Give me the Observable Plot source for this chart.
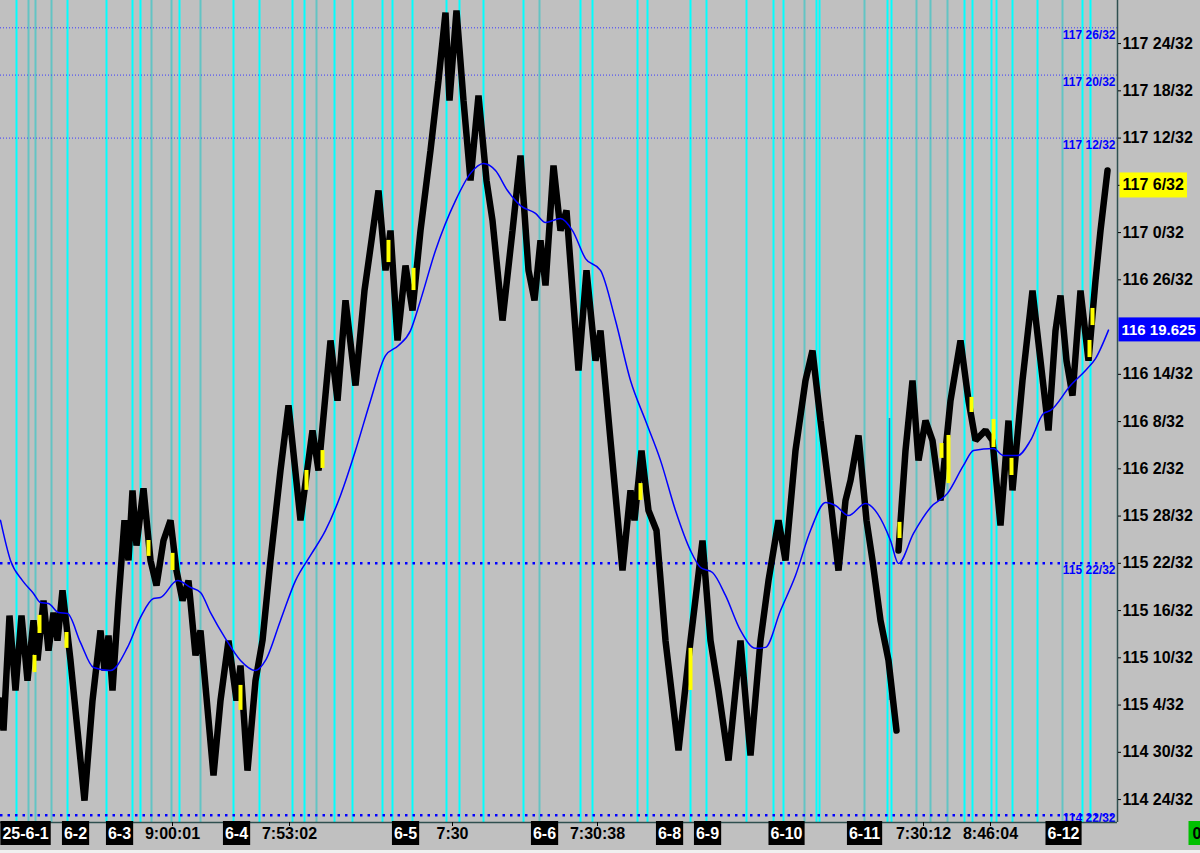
<!DOCTYPE html>
<html><head><meta charset="utf-8">
<script src="https://cdn.jsdelivr.net/npm/d3@7"></script>
<script src="https://cdn.jsdelivr.net/npm/@observablehq/plot@0.6"></script>
<style>body{margin:0;background:#c0c0c0;overflow:hidden} svg{display:block}</style>
</head><body><div id="chart"></div><script>
// ---- data ----
const barCount = 1117;
const priceMin = 114.659, priceMax = 117.921;

// swing points of the price bars (bar index, price)
const seg1X = [0,3,9,15,21,27,33,37,43,48,53,57,62,70,76,84,92,100,104,108,112,118,124,128,132,136,143,150,156,163,170,176,182,188,195,200,213,220,228,236,240,247,255,262,270,280,288,300,312,318,330,337,345,355,364,378,385,390,397,405,412,420,430,438,445,449,456,463,470,478,486,492,502,512,520,528,534,540,545,553,560,566,578,586,595,600,610,622,630,634,641,648,656,665,678,690,702,710,718,728,740,750,760,768,778,785,795,805,812,820,830,838,845,850,858,866,872,880,888,896];
const seg1P = [115.143,115.024,115.480,115.183,115.480,115.222,115.461,115.302,115.540,115.341,115.492,115.381,115.580,115.302,115.064,114.746,115.143,115.421,115.262,115.401,115.183,115.540,115.858,115.699,115.977,115.758,115.985,115.699,115.600,115.778,115.858,115.659,115.540,115.619,115.322,115.421,114.846,115.143,115.381,115.143,115.282,114.865,115.222,115.381,115.699,116.056,116.314,115.858,116.215,116.056,116.572,116.333,116.731,116.393,116.770,117.167,116.850,117.008,116.572,116.869,116.691,117.008,117.326,117.604,117.873,117.524,117.881,117.524,117.207,117.544,117.207,117.048,116.651,117.008,117.306,116.850,116.731,116.969,116.790,117.266,117.008,117.088,116.453,116.850,116.492,116.611,116.175,115.659,115.977,115.858,116.135,115.897,115.818,115.381,114.945,115.381,115.778,115.381,115.183,114.905,115.381,114.925,115.381,115.619,115.858,115.699,116.135,116.413,116.532,116.254,115.937,115.659,115.937,116.016,116.195,115.858,115.699,115.461,115.302,115.024];
const seg2X = [898,905,912,918,925,932,940,950,960,968,975,985,992,1000,1008,1012,1022,1032,1040,1048,1055,1060,1066,1072,1080,1088,1095,1100,1107];
const seg2P = [115.738,116.135,116.413,116.096,116.254,116.175,115.937,116.333,116.572,116.333,116.175,116.215,116.175,115.838,116.254,115.977,116.413,116.770,116.492,116.215,116.611,116.750,116.492,116.353,116.770,116.492,116.810,117.008,117.246];

// moving average
const maX = [0,10,22,33,40,48,58,67,80,93,110,127,140,153,160,177,190,200,210,225,240,255,265,280,295,310,325,340,355,370,385,398,410,420,435,455,470,483,495,507,520,535,545,560,572,585,600,615,630,645,660,675,690,700,712,725,740,755,765,780,795,810,825,835,848,865,877,890,898,913,930,947,963,973,993,1003,1017,1030,1043,1050,1070,1085,1095,1108];
const maP = [115.858,115.699,115.619,115.568,115.532,115.528,115.492,115.488,115.373,115.274,115.262,115.354,115.473,115.548,115.552,115.619,115.592,115.572,115.492,115.389,115.302,115.262,115.302,115.461,115.619,115.719,115.818,115.957,116.135,116.333,116.512,116.552,116.611,116.731,116.929,117.127,117.235,117.274,117.246,117.167,117.107,117.076,117.040,117.056,117.008,116.897,116.850,116.651,116.413,116.254,116.096,115.897,115.738,115.671,115.651,115.560,115.421,115.350,115.354,115.500,115.639,115.818,115.929,115.917,115.877,115.925,115.885,115.778,115.687,115.806,115.909,115.965,116.076,116.135,116.143,116.115,116.115,116.175,116.282,116.294,116.393,116.453,116.500,116.613];

// highlighted (yellow) bars
const yellowX  = [34,39,66,148,172,240,306,322,388,413,640,690,899,941,948,971,993,1011,1089,1092];
const yellowLo = [115.254,115.409,115.350,115.715,115.659,115.104,115.977,116.064,116.881,116.770,115.937,115.183,115.786,116.104,116.004,116.286,116.147,116.036,116.504,116.631];
const yellowHi = [115.322,115.481,115.413,115.778,115.727,115.203,116.056,116.135,116.969,116.858,116.004,115.350,115.850,116.163,116.195,116.346,116.258,116.104,116.572,116.699];

// session separators
const sepX = [16,28,35,51,67,106,132,140,151,171,179,200,233,259,292,304,316,334,352,382,392,412,446,459,483,523,539,580,592,637,647,690,706,746,773,783,804,816,819,864,887,891,916,930,947,964,972,991,996,1012,1037,1062,1082,1090];
const sepBright = [1,0,0,0,1,1,1,1,0,0,1,0,1,1,1,1,0,1,1,1,1,1,1,1,1,1,0,1,1,1,1,1,1,1,1,1,0,1,1,0,1,1,0,0,0,1,1,1,1,1,1,0,1,1];

// gap bar
const gapBarX = [889], gapBarLo = [115.143], gapBarHi = [116.262];

// price levels
const thinLevels = [117.8125, 117.625, 117.375];
const thickLevels = [115.6875, 114.6875];
const levelLabels = ["117 26/32","117 20/32","117 12/32","115 22/32","114 22/32"];

// right axis
const yTicks = [114.75,114.9375,115.125,115.3125,115.5,115.6875,115.875,116.0625,116.25,116.4375,116.8125,117,117.1875,117.375,117.5625,117.75];
const lastPrice = 117.1875, lastPriceLabel = "117 6/32";
const maLast = 116.613, maLastLabel = "116 19.625";

// bottom labels
const xLabelPos  = [25,75,119,172,236,289,405,452,544,597,669,707,786,864,923,990,1063];
const xLabelText = ["25-6-1","6-2","6-3","9:00:01","6-4","7:53:02","6-5","7:30","6-6","7:30:38","6-8","6-9","6-10","6-11","7:30:12","8:46:04","6-12"];
const xLabelIsDate = [1,1,1,0,1,0,1,0,1,0,1,1,1,1,0,0,1];

// ---- tables ----
const priceRows = [
  ...seg1X.map((x,i)=>({x, p: seg1P[i], seg: 1})),
  ...seg2X.map((x,i)=>({x, p: seg2P[i], seg: 2}))
];
const maRows = maX.map((x,i)=>({x, p: maP[i]}));
const yellowRows = yellowX.map((x,i)=>({x, lo: yellowLo[i], hi: yellowHi[i]}));
const sepRows = sepX.map((x,i)=>({x, bright: sepBright[i]}));
const levelRows = [...thinLevels, ...thickLevels].map((p,i)=>({p, t: levelLabels[i]}));
const xLabRows = xLabelPos.map((x,i)=>({x, t: xLabelText[i], date: xLabelIsDate[i]}));

const fmt32 = d => { const w = Math.floor(d + 1e-9); const n = Math.round((d - w) * 32); return `${w} ${n}/32`; };
const levelText = {frameAnchor: "right", textAnchor: "end", dx: -2, fill: "#0000ff", fontSize: 12, fontWeight: "bold", clip: true};

const chart = Plot.plot({
  width: 1200, height: 853,
  marginLeft: 0, marginRight: 83, marginTop: 0, marginBottom: 31,
  style: {background: "#c0c0c0", fontFamily: "Liberation Sans, Arial, sans-serif", color: "black"},
  x: {domain: [0, barCount], axis: null, label: null},
  y: {domain: [priceMin, priceMax], axis: null, label: null},
  marks: [
    Plot.ruleX(sepRows.filter(d=>!d.bright), {x: "x", stroke: "#62c4c4", strokeWidth: 2}),
    Plot.ruleX(sepRows.filter(d=>d.bright), {x: "x", stroke: "#00ffff", strokeWidth: 2}),
    Plot.ruleY(thinLevels, {y: d=>d, stroke: "#3a3aff", strokeWidth: 1, strokeDasharray: "1,2"}),
    Plot.ruleY(thickLevels, {y: d=>d, stroke: "#0000ff", strokeWidth: 2.5, strokeDasharray: "2.5,5"}),
    Plot.ruleX(gapBarX, {x: d=>d, y1: (d,i)=>gapBarLo[i], y2: (d,i)=>gapBarHi[i], stroke: "#3c78aa", strokeWidth: 1.5}),
    Plot.line(priceRows, {x: "x", y: "p", z: "seg", stroke: "black", strokeWidth: 6.5, strokeLinejoin: "bevel"}),
    Plot.ruleX(yellowRows, {x: "x", y1: "lo", y2: "hi", stroke: "#ffff00", strokeWidth: 4}),
    Plot.line(maRows, {x: "x", y: "p", stroke: "#0000ff", strokeWidth: 1.5, curve: "monotone-x"}),
    Plot.text(levelRows.slice(0, 4), {y: "p", text: "t", dy: 7, ...levelText}),
    Plot.text(levelRows.slice(4), {y: "p", text: "t", dy: 3, ...levelText}),
    Plot.ruleX([barCount], {stroke: "#2f4f4f", strokeWidth: 1.5}),
    Plot.ruleY([priceMin], {stroke: "#2f4f4f", strokeWidth: 1.5}),
    Plot.axisY({anchor: "right", ticks: yTicks, tickFormat: fmt32, tickSize: 3, tickPadding: 2, fontSize: 16, fontWeight: "bold", label: null}),
    Plot.axisX({ticks: xLabelPos, tickFormat: () => "", tickSize: 4, label: null}),
    Plot.text([lastPrice], {y: d=>d, text: () => lastPriceLabel, frameAnchor: "right", textAnchor: "start", dx: 5, fill: "black", fontSize: 16, fontWeight: "bold", ariaDescription: "yellowbox"}),
    Plot.text([maLast], {y: d=>d, text: () => maLastLabel, frameAnchor: "right", textAnchor: "start", dx: 4, fill: "white", fontSize: 15, fontWeight: "bold", ariaDescription: "bluebox"}),
    Plot.text(xLabRows.filter(d=>d.date), {x: "x", text: "t", frameAnchor: "bottom", dy: 16, fill: "white", fontSize: 16, fontWeight: "bold", ariaDescription: "datebox"}),
    Plot.text(xLabRows.filter(d=>!d.date), {x: "x", text: "t", frameAnchor: "bottom", dy: 16, fill: "black", fontSize: 16, fontWeight: "bold"}),
    Plot.text(["0"], {text: d=>d, frameAnchor: "bottom-right", textAnchor: "start", dx: 75, dy: 16, fill: "black", fontSize: 16, fontWeight: "bold", ariaDescription: "greenbox"})
  ]
});
document.getElementById("chart").appendChild(chart);

// backgrounds behind label texts
function boxes(desc, fill, padX, h, extraRight) {
  d3.select(chart).selectAll(`g[aria-description="${desc}"] text`).each(function() {
    const bb = this.getBBox();
    const cy = bb.y + bb.height / 2;
    const r = document.createElementNS("http://www.w3.org/2000/svg", "rect");
    r.setAttribute("x", bb.x - padX);
    r.setAttribute("y", cy - h / 2);
    r.setAttribute("width", bb.width + 2 * padX + (extraRight || 0));
    r.setAttribute("height", h);
    r.setAttribute("fill", fill);
    const tr = this.getAttribute("transform");
    if (tr) r.setAttribute("transform", tr);
    this.parentNode.insertBefore(r, this);
  });
}
boxes("datebox", "black", 2, 24);
boxes("yellowbox", "#ffff00", 3, 25);
boxes("bluebox", "#0000ff", 3, 24, 20);
boxes("greenbox", "#00c000", 4, 24, 20);
const strip = document.createElementNS("http://www.w3.org/2000/svg", "rect");
strip.setAttribute("x", 0); strip.setAttribute("y", 850); strip.setAttribute("width", 1200); strip.setAttribute("height", 3); strip.setAttribute("fill", "#f0f0f0");
chart.appendChild(strip);
</script></body></html>
